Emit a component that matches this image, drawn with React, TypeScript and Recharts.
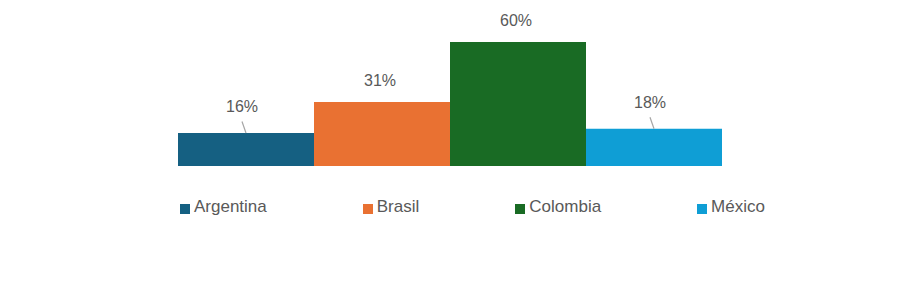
import React from 'react';
import { BarChart, Bar, XAxis, YAxis, Cell, LabelList, Legend } from 'recharts';

const categories = ['Argentina', 'Brasil', 'Colombia', 'México'];
const shares = [16, 31, 60, 18];
const colors = ['#156082', '#E97132', '#196B24', '#0F9ED5'];

const data = categories.map((name, i) => ({ name, value: shares[i] }));

const FONT = '"Liberation Sans", Arial, sans-serif';
const TEXT = '#595959';

const renderLabel = (props: any) => {
  const { x, y, width, value } = props;
  const cx = Number(x) + Number(width) / 2;
  const top = Number(y);
  const useLeader = Number(value) < 20;
  if (useLeader) {
    const lx = cx - 4;
    const base = top - 20.5;
    return (
      <g>
        <line x1={lx} y1={base + 9} x2={cx} y2={top} stroke="#A6A6A6" strokeWidth={1.2} />
        <text x={lx} y={base} textAnchor="middle" fontFamily={FONT} fontSize={16} fill={TEXT}>
          {`${value}%`}
        </text>
      </g>
    );
  }
  return (
    <text x={cx - 2} y={top - 16} textAnchor="middle" fontFamily={FONT} fontSize={16} fill={TEXT}>
      {`${value}%`}
    </text>
  );
};

const renderLegend = () => (
  <div style={{ display: 'flex', alignItems: 'center', gap: 96, fontFamily: FONT, fontSize: 17, color: TEXT, lineHeight: '20px' }}>
    {categories.map((c, i) => (
      <div key={c} style={{ display: 'flex', alignItems: 'center' }}>
        <span style={{ display: 'inline-block', width: 10, height: 10, background: colors[i], marginRight: 4, marginTop: 4 }} />
        <span>{c}</span>
      </div>
    ))}
  </div>
);

export default function App() {
  return (
    <div style={{ position: 'absolute', left: 0, top: 0, width: 902, height: 300, background: '#fff' }}>
      <BarChart
        width={902}
        height={300}
        data={data}
        margin={{ top: 42, right: 180, bottom: 114, left: 178 }}
        barCategoryGap={0}
        barGap={0}
      >
        <XAxis dataKey="name" hide />
        <YAxis hide domain={[0, 60]} />
        <Legend content={renderLegend} wrapperStyle={{ position: 'absolute', top: 197, left: 180, width: 700, height: 20 }} />
        <Bar dataKey="value" isAnimationActive={false}>
          {data.map((d, i) => (
            <Cell key={d.name} fill={colors[i]} />
          ))}
          <LabelList dataKey="value" content={renderLabel} />
        </Bar>
      </BarChart>
    </div>
  );
}
